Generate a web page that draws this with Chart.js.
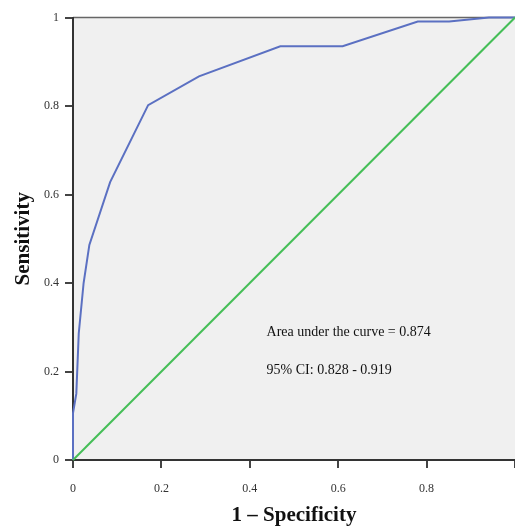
<!DOCTYPE html>
<html>
<head>
<meta charset="utf-8">
<script src="https://cdn.jsdelivr.net/npm/chart.js@4/dist/chart.umd.min.js"></script>
<style>
html,body{margin:0;padding:0;background:#fff;overflow:hidden}
</style>
</head>
<body>
<canvas id="chart" width="515" height="526"></canvas>
<script>

// ROC curve points
const fpr=[0,0,0.0075,0.013,0.024,0.037,0.084,0.170,0.285,0.469,0.610,0.780,0.851,0.941,1]
const tpr=[0,0.106,0.15,0.286,0.40,0.486,0.628,0.802,0.867,0.935,0.935,0.991,0.991,1,1]

// reference diagonal
const refX=[0,1]
const refY=[0,1]

const xTickLabels=["0","0.2","0.4","0.6","0.8",""]
const yTickLabels=["0","0.2","0.4","0.6","0.8","1"]

const notes=["Area under the curve = 0.874","95% CI: 0.828 - 0.919"]
const noteX=0.438
const noteY=[0.289,0.203]

function toPoints(xs,ys){
return xs.map((x,i)=>({x:x,y:ys[i]}))
}

const bgPlugin={
id:"bg",
beforeDraw(chart){
const {ctx,chartArea:a}=chart
ctx.save()
ctx.fillStyle="#f0f0f0"
ctx.fillRect(a.left,a.top,a.right-a.left,a.bottom-a.top)
ctx.strokeStyle="#666"
ctx.lineWidth=1.5
ctx.beginPath()
ctx.moveTo(a.left,a.top)
ctx.lineTo(a.right,a.top)
ctx.stroke()
ctx.restore()
},
afterDatasetsDraw(chart){
const {ctx,scales}=chart
ctx.save()
ctx.fillStyle="#111"
ctx.font="14px 'Liberation Serif'"
ctx.textBaseline="middle"
ctx.textAlign="left"
notes.forEach((t,i)=>{
ctx.fillText(t,scales.x.getPixelForValue(noteX),scales.y.getPixelForValue(noteY[i]))
})
ctx.restore()
}
}

const tickFont={family:"'Liberation Serif'",size:12}
const titleFont={family:"'Liberation Serif'",size:21,weight:"bold",lineHeight:1}

new Chart(document.getElementById("chart"),{
type:"scatter",
data:{
datasets:[
{
data:toPoints(refX,refY),
showLine:true,
borderColor:"#45be57",
borderWidth:2,
pointRadius:0,
clip:false
},
{
data:toPoints(fpr,tpr),
showLine:true,
borderColor:"#5b70c2",
borderWidth:2,
pointRadius:0,
clip:false
}
]
},
options:{
responsive:false,
animation:false,
layout:{padding:{top:17.5,right:0,left:0,bottom:0}},
plugins:{legend:{display:false},tooltip:{enabled:false}},
scales:{
x:{
type:"linear",
min:0,max:1,
afterFit(s){s.height=66;s.paddingRight=0;s.paddingLeft=0},
ticks:{stepSize:0.2,padding:14,color:"#333",font:tickFont,maxRotation:0,
callback:(v,i)=>xTickLabels[i]},
grid:{drawOnChartArea:false,drawTicks:true,tickLength:8,color:"#444",lineWidth:2},
border:{color:"#333",width:2},
title:{display:true,text:"1 – Specificity",color:"#111",font:titleFont,padding:{top:0,bottom:0}}
},
y:{
type:"linear",
min:0,max:1,
afterFit(s){s.width=73;s.paddingTop=0;s.paddingBottom=0},
ticks:{stepSize:0.2,padding:6,color:"#333",font:tickFont,
callback:(v,i)=>yTickLabels[i]},
grid:{drawOnChartArea:false,drawTicks:true,tickLength:8,color:"#444",lineWidth:2},
border:{color:"#333",width:2},
title:{display:true,text:"Sensitivity",color:"#111",font:titleFont,padding:{top:13,bottom:0}}
}
}
},
plugins:[bgPlugin]
})

</script>
</body>
</html>
